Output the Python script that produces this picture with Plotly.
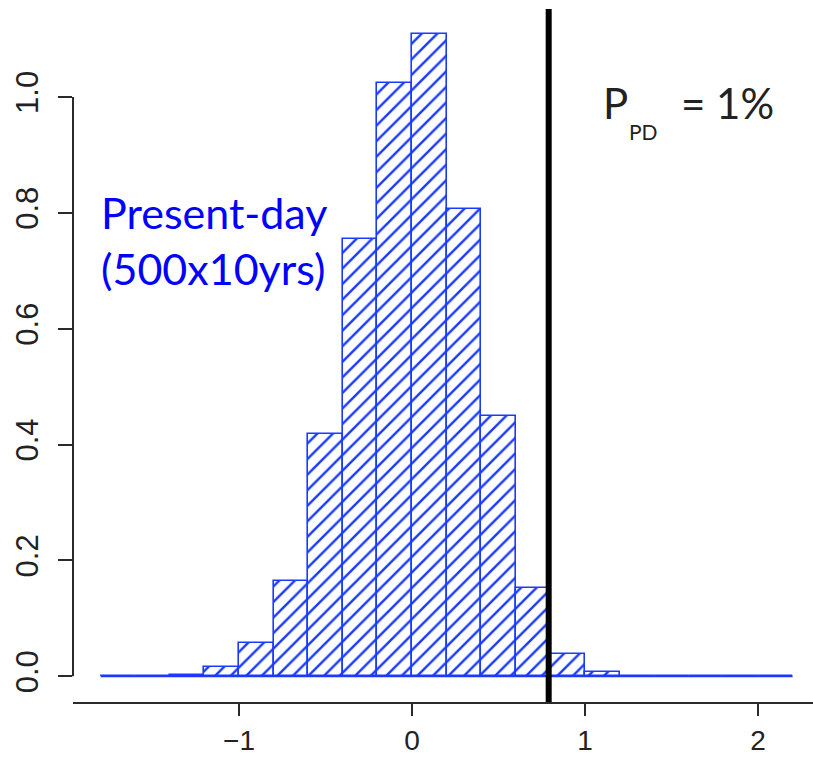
import plotly.graph_objects as go

# Histogram of the present-day ensemble (density, bin width 0.2)
bin_edges = [-1.8, -1.6, -1.4, -1.2, -1.0, -0.8, -0.6, -0.4, -0.2, 0.0, 0.2,
             0.4, 0.6, 0.8, 1.0, 1.2, 1.4, 1.6, 1.8, 2.0, 2.2]
density = [0.0, 0.0, 0.002, 0.016, 0.058, 0.165, 0.419, 0.755, 1.024, 1.108,
           0.806, 0.450, 0.153, 0.038, 0.007, 0.001, 0.0, 0.0, 0.0, 0.0]

threshold = 0.79          # vertical marker
x_ticks = [-1, 0, 1, 2]
y_ticks = [0.0, 0.2, 0.4, 0.6, 0.8, 1.0]
y_tick_text = ["%.1f" % v for v in y_ticks]

label_series = "Present-day<br>(500x10yrs)"
label_prob_main = "P"
label_prob_sub = "PD"
label_prob_val = "= 1%"

BLUE = "#1a3aff"
AXIS = "#2a2a2a"

centers = [(a + b) / 2 for a, b in zip(bin_edges[:-1], bin_edges[1:])]
widths = [b - a for a, b in zip(bin_edges[:-1], bin_edges[1:])]

fig = go.Figure()

# baseline along the full histogram support (empty bins show as a flat line)
fig.add_trace(go.Scatter(
    x=[bin_edges[0], bin_edges[-1]], y=[0, 0], mode="lines",
    line=dict(color=BLUE, width=1.6), hoverinfo="skip", showlegend=False))

fig.add_trace(go.Bar(
    x=centers, y=density, width=widths,
    marker=dict(color="white",
                line=dict(color=BLUE, width=1.6),
                pattern=dict(shape="/", fgcolor=BLUE, bgcolor="white",
                             size=11, solidity=0.22, fillmode="replace")),
    showlegend=False))

# threshold line over the whole plotting region
fig.add_shape(type="line", xref="x", yref="paper", x0=threshold, x1=threshold,
              y0=0, y1=1, line=dict(color="black", width=6))

# y axis line only between first and last tick
fig.add_shape(type="line", xref="paper", yref="y", x0=0, x1=0,
              y0=y_ticks[0], y1=y_ticks[-1], line=dict(color=AXIS, width=2))

fig.add_annotation(text=label_series, xref="x", yref="y", x=-1.81, y=0.848,
                   xanchor="left", yanchor="top", align="left", showarrow=False,
                   font=dict(family="Lato", size=43, color="#0000ff"))
fig.add_annotation(text=label_prob_main, xref="x", yref="y", x=1.095, y=0.99,
                   xanchor="left", yanchor="middle", showarrow=False,
                   font=dict(family="Lato", size=42, color="#222222"))
fig.add_annotation(text=label_prob_sub, xref="x", yref="y", x=1.24, y=0.94,
                   xanchor="left", yanchor="middle", showarrow=False,
                   font=dict(family="Lato", size=21, color="#222222"))
fig.add_annotation(text=label_prob_val, xref="x", yref="y", x=1.545, y=0.99,
                   xanchor="left", yanchor="middle", showarrow=False,
                   font=dict(family="Lato", size=42, color="#222222"))

fig.update_layout(
    width=813, height=758,
    margin=dict(l=73, r=0, t=9, b=56, pad=0),
    paper_bgcolor="white", plot_bgcolor="white",
    bargap=0,
    font=dict(family="Liberation Sans", size=31, color="#222222"),
    xaxis=dict(range=[-1.96, 2.318], tickvals=x_ticks, showgrid=False,
               zeroline=False, showline=True, linecolor=AXIS, linewidth=2,
               ticks="outside", ticklen=12, tickwidth=2, tickcolor=AXIS,
               tickfont=dict(size=28), ticklabelstandoff=0, automargin=False),
    yaxis=dict(range=[-0.0443, 1.152], tickvals=y_ticks, ticktext=y_tick_text,
               showgrid=False, zeroline=False, showline=False,
               ticks="outside", ticklen=14, tickwidth=2, tickcolor=AXIS,
               tickangle=-90, ticklabelstandoff=8, automargin=False),
)

fig.write_html("out.html")
